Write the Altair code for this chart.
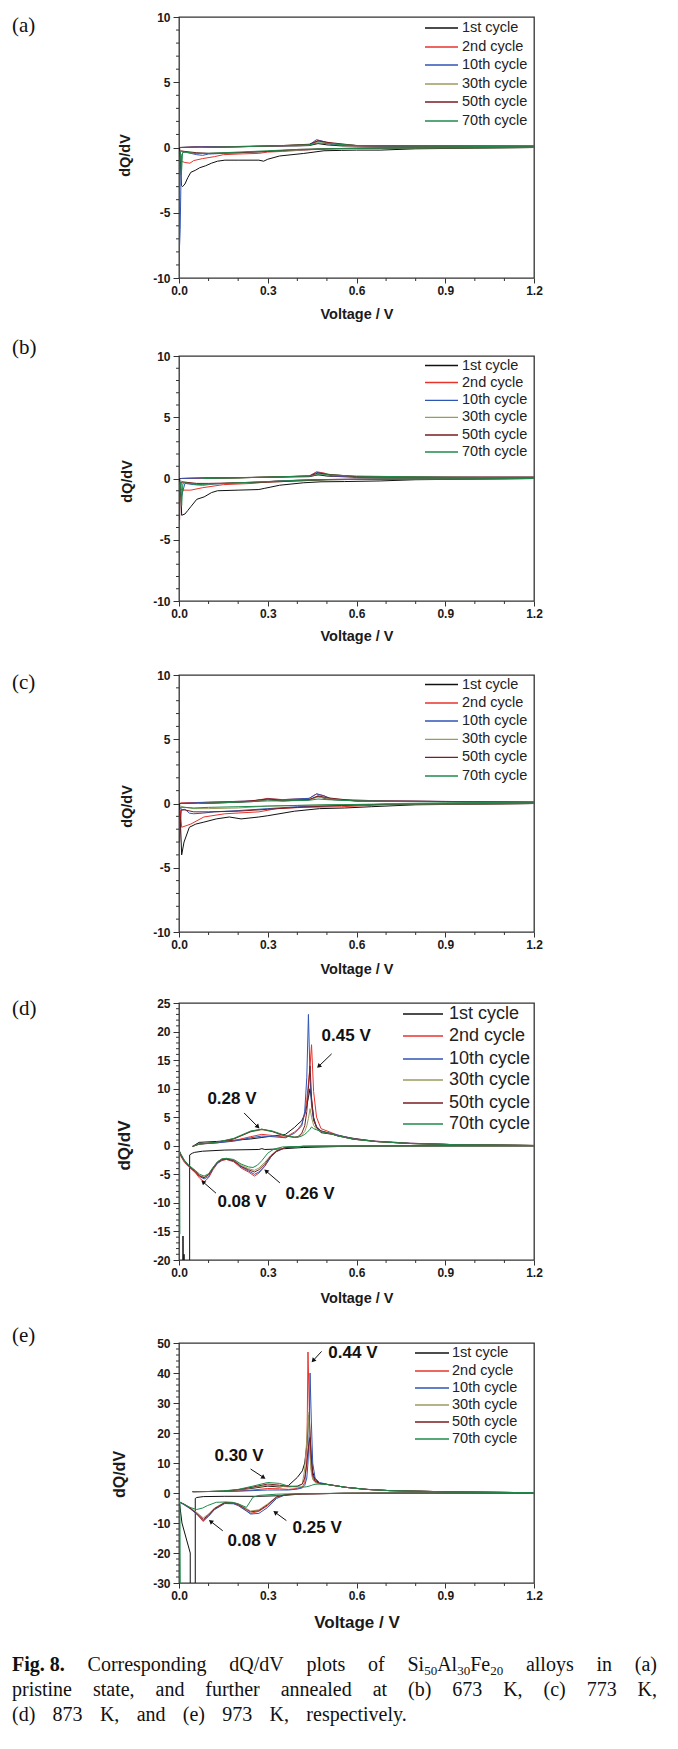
import math
import altair as alt
import pandas as pd

CYCLES = ["1st cycle", "2nd cycle", "10th cycle", "30th cycle", "50th cycle", "70th cycle"]
COLORS = ["#111111", "#e8332c", "#2f55b4", "#9b9b5e", "#7a1d22", "#1f8a4c"]
X_TICKS = [0.0, 0.3, 0.6, 0.9, 1.2]
X_MINOR = [0.1, 0.2, 0.4, 0.5, 0.7, 0.8, 1.0, 1.1]

# ---------------- panel (a) ----------------
A_1ST_V = [1.2, 1.0, 0.8, 0.68, 0.6, 0.55, 0.49, 0.42, 0.34, 0.3, 0.286, 0.27, 0.2, 0.155, 0.13, 0.11, 0.09, 0.07, 0.055, 0.04, 0.03, 0.02, 0.012, 0.008, 0.004, 0.002, None,
           0.002, 0.05, 0.1, 0.2, 0.3, 0.4, 0.44, 0.47, 0.5, 0.55, 0.7, 0.9, 1.2]
A_1ST_Y = [0.0, -0.05, -0.1, -0.2, -0.2, -0.22, -0.25, -0.46, -0.65, -0.9, -1.05, -0.97, -0.97, -0.97, -1.05, -1.2, -1.4, -1.55, -1.75, -1.9, -2.3, -2.8, -3.0, -2.9, -0.5, 0.0, None,
           0.0, 0.05, 0.05, 0.08, 0.1, 0.12, 0.15, 0.3, 0.2, 0.12, 0.1, 0.1, 0.1]
A_2ND_V = [1.2, 0.8, 0.6, 0.5, 0.42, 0.35, 0.3, 0.27, 0.2, 0.15, 0.12, 0.08, 0.05, 0.037, 0.02, 0.0075, 0.004, None,
           0.005, 0.1, 0.3, 0.44, 0.47, 0.5, 0.55, 0.7, 0.9, 1.2]
A_2ND_Y = [0.0, 0.0, -0.05, -0.1, -0.2, -0.3, -0.35, -0.45, -0.5, -0.55, -0.7, -0.85, -1.0, -1.2, -1.15, -1.05, -0.3, None,
           0.0, 0.05, 0.1, 0.2, 0.55, 0.4, 0.15, 0.1, 0.15, 0.1]
A_10TH_V = [1.2, 0.8, 0.6, 0.5, 0.4, 0.3, 0.2, 0.15, 0.1, 0.08, 0.06, 0.03, 0.015, 0.008, 0.004, 0.002, None,
            0.002, 0.1, 0.3, 0.44, 0.465, 0.49, 0.52, 0.7, 1.2]
A_10TH_Y = [0.0, 0.0, -0.05, -0.1, -0.2, -0.3, -0.4, -0.45, -0.5, -0.6, -0.55, -0.4, -0.35, -0.6, -6.3, -7.5, None,
            0.0, 0.05, 0.1, 0.2, 0.6, 0.45, 0.2, 0.1, 0.1]
A_30TH_V = [1.2, 0.7, 0.5, 0.4, 0.3, 0.2, 0.1, 0.06, 0.02, 0.005, None, 0.09, 0.2, 0.35, 0.44, 0.47, 0.5, 0.6, 0.9, 1.2]
A_30TH_Y = [0.0, -0.05, -0.1, -0.2, -0.3, -0.4, -0.45, -0.45, -0.35, -0.3, None, 0.0, 0.05, 0.15, 0.2, 0.45, 0.35, 0.15, 0.1, 0.1]
A_50TH_V = [1.2, 0.7, 0.5, 0.4, 0.3, 0.2, 0.1, 0.06, 0.02, 0.005, None, 0.09, 0.2, 0.35, 0.44, 0.47, 0.5, 0.6, 0.9, 1.2]
A_50TH_Y = [0.0, -0.05, -0.1, -0.15, -0.3, -0.4, -0.45, -0.4, -0.3, -0.25, None, 0.0, 0.05, 0.15, 0.25, 0.5, 0.4, 0.15, 0.1, 0.1]
A_70TH_V = [1.2, 0.7, 0.5, 0.4, 0.3, 0.2, 0.1, 0.05, 0.02, 0.012, 0.008, 0.005, None, 0.08, 0.2, 0.35, 0.44, 0.47, 0.5, 0.6, 0.9, 1.2]
A_70TH_Y = [0.0, -0.05, -0.1, -0.15, -0.25, -0.35, -0.45, -0.45, -0.35, -0.4, -2.1, -0.3, None, 0.0, 0.05, 0.15, 0.2, 0.35, 0.3, 0.15, 0.1, 0.05]

# ---------------- panel (b) ----------------
B_1ST_V = [1.2, 0.8, 0.68, 0.56, 0.48, 0.42, 0.34, 0.29, 0.27, 0.2, 0.13, 0.11, 0.085, 0.06, 0.04, 0.03, 0.02, 0.009, 0.005, 0.002, None,
           0.002, 0.1, 0.3, 0.44, 0.47, 0.5, 0.6, 0.9, 1.2]
B_1ST_Y = [0.0, -0.1, -0.2, -0.25, -0.27, -0.35, -0.55, -0.8, -0.9, -0.95, -1.0, -1.15, -1.5, -1.7, -2.3, -2.6, -2.9, -3.0, -0.5, 0.0, None,
           0.0, 0.05, 0.1, 0.15, 0.3, 0.2, 0.1, 0.1, 0.1]
B_2ND_V = [1.2, 0.6, 0.45, 0.33, 0.25, 0.15, 0.08, 0.04, 0.008, 0.004, None, 0.005, 0.1, 0.3, 0.44, 0.465, 0.49, 0.52, 0.7, 1.2]
B_2ND_Y = [0.0, -0.05, -0.1, -0.2, -0.4, -0.5, -0.75, -0.95, -0.95, -0.3, None, 0.0, 0.05, 0.1, 0.2, 0.55, 0.45, 0.2, 0.1, 0.1]
B_10TH_V = [1.2, 0.6, 0.45, 0.3, 0.2, 0.12, 0.08, 0.05, 0.02, 0.008, 0.004, None, 0.005, 0.1, 0.3, 0.44, 0.465, 0.49, 0.52, 0.7, 1.2]
B_10TH_Y = [0.0, -0.05, -0.1, -0.25, -0.35, -0.45, -0.55, -0.5, -0.4, -1.5, -0.3, None, 0.0, 0.05, 0.1, 0.2, 0.5, 0.4, 0.2, 0.1, 0.1]
B_30TH_V = [1.2, 0.7, 0.5, 0.4, 0.3, 0.2, 0.1, 0.06, 0.02, 0.005, None, 0.08, 0.2, 0.35, 0.44, 0.47, 0.5, 0.6, 0.9, 1.2]
B_30TH_Y = [0.0, -0.05, -0.1, -0.2, -0.3, -0.35, -0.45, -0.45, -0.3, -0.2, None, 0.0, 0.05, 0.15, 0.2, 0.4, 0.35, 0.15, 0.1, 0.1]
B_50TH_V = [1.2, 0.7, 0.5, 0.4, 0.3, 0.2, 0.1, 0.06, 0.02, 0.008, 0.004, 0.002, None, 0.08, 0.2, 0.35, 0.44, 0.47, 0.5, 0.6, 0.9, 1.2]
B_50TH_Y = [0.0, -0.05, -0.1, -0.2, -0.3, -0.35, -0.4, -0.4, -0.3, -0.3, -1.0, -3.4, None, 0.0, 0.05, 0.15, 0.2, 0.45, 0.35, 0.15, 0.1, 0.1]
B_70TH_V = [1.2, 0.7, 0.5, 0.4, 0.3, 0.2, 0.1, 0.06, 0.02, 0.013, 0.009, 0.005, None, 0.08, 0.2, 0.35, 0.44, 0.47, 0.5, 0.6, 0.9, 1.2]
B_70TH_Y = [0.0, -0.05, -0.1, -0.15, -0.25, -0.35, -0.45, -0.5, -0.35, -0.4, -2.2, -0.3, None, 0.0, 0.05, 0.15, 0.2, 0.3, 0.3, 0.2, 0.1, 0.05]

# ---------------- panel (c) ----------------
C_1ST_V = [1.2, 0.8, 0.65, 0.56, 0.475, 0.39, 0.3, 0.27, 0.21, 0.17, 0.126, 0.084, 0.057, 0.035, 0.017, 0.009, 0.004, 0.002, None,
           0.002, 0.1, 0.25, 0.3, 0.35, 0.44, 0.47, 0.5, 0.6, 0.9, 1.2]
C_1ST_Y = [0.0, -0.1, -0.25, -0.35, -0.4, -0.6, -0.95, -1.05, -1.2, -1.05, -1.2, -1.45, -1.6, -1.85, -3.0, -4.0, -1.0, 0.0, None,
           0.0, 0.05, 0.15, 0.3, 0.2, 0.3, 0.55, 0.35, 0.2, 0.15, 0.1]
C_2ND_V = [1.2, 0.7, 0.55, 0.42, 0.33, 0.27, 0.155, 0.084, 0.04, 0.009, 0.004, None,
           0.005, 0.1, 0.25, 0.3, 0.35, 0.44, 0.465, 0.49, 0.52, 0.7, 1.2]
C_2ND_Y = [0.0, -0.1, -0.25, -0.3, -0.4, -0.65, -0.8, -1.05, -1.6, -1.85, -0.5, None,
           0.05, 0.1, 0.2, 0.4, 0.3, 0.4, 0.75, 0.6, 0.3, 0.2, 0.1]
C_10TH_V = [1.2, 0.7, 0.55, 0.4, 0.3, 0.2, 0.12, 0.08, 0.05, 0.035, 0.02, 0.01, 0.004, None,
            0.005, 0.1, 0.25, 0.3, 0.35, 0.44, 0.465, 0.49, 0.52, 0.7, 1.2]
C_10TH_Y = [0.0, -0.05, -0.15, -0.25, -0.4, -0.55, -0.65, -0.75, -0.8, -0.75, -0.45, -0.5, -0.3, None,
            0.0, 0.1, 0.2, 0.35, 0.3, 0.4, 0.75, 0.6, 0.3, 0.2, 0.1]
C_30TH_V = [1.2, 0.7, 0.5, 0.4, 0.3, 0.2, 0.1, 0.05, 0.02, 0.005, None, 0.07, 0.2, 0.3, 0.35, 0.44, 0.47, 0.5, 0.6, 0.9, 1.2]
C_30TH_Y = [0.0, -0.05, -0.1, -0.15, -0.2, -0.35, -0.4, -0.4, -0.3, -0.2, None, 0.0, 0.1, 0.3, 0.25, 0.3, 0.5, 0.4, 0.2, 0.15, 0.1]
C_50TH_V = [1.2, 0.7, 0.55, 0.4, 0.3, 0.2, 0.1, 0.05, 0.02, 0.008, 0.004, 0.002, None, 0.07, 0.2, 0.3, 0.35, 0.44, 0.47, 0.5, 0.6, 0.9, 1.2]
C_50TH_Y = [0.0, -0.05, -0.15, -0.3, -0.45, -0.6, -0.65, -0.65, -0.5, -0.5, -1.5, -3.0, None, 0.0, 0.1, 0.35, 0.25, 0.3, 0.6, 0.45, 0.2, 0.15, 0.1]
C_70TH_V = [1.2, 0.7, 0.5, 0.4, 0.3, 0.2, 0.1, 0.05, 0.02, 0.005, None, 0.07, 0.2, 0.3, 0.35, 0.44, 0.47, 0.5, 0.6, 0.9, 1.2]
C_70TH_Y = [0.0, -0.05, -0.1, -0.15, -0.2, -0.25, -0.3, -0.35, -0.3, -0.3, None, 0.0, 0.1, 0.2, 0.2, 0.25, 0.35, 0.3, 0.2, 0.1, 0.05]

# ---------------- panel (d) ----------------
D_DIS_V = [1.2, 0.9, 0.6, 0.42, 0.36, 0.33, 0.31, 0.29, 0.27, 0.255, 0.235, 0.21, 0.185, 0.16, 0.145, 0.13, 0.115, 0.1, 0.085, 0.07, 0.055, 0.033, 0.018, 0.006, 0.002]
D_CHG_V = [0.046, 0.068, 0.126, 0.185, 0.243, 0.28, 0.315, 0.36, 0.39, 0.402, 0.415, 0.425, 0.432, 0.4375, 0.443, 0.448, 0.455, 0.465, 0.48, 0.52, 0.535, 0.59, 0.665, 0.78, 0.93, 1.2]
D_1ST_DIS_V = [1.2, 0.8, 0.56, 0.42, 0.344, 0.29, 0.28, 0.27, 0.155, 0.08, 0.053, 0.045, 0.036, 0.036, 0.018, 0.017, 0.016, 0.015, 0.0135, 0.013]
D_1ST_DIS_Y = [0.0, 0.0, -0.1, -0.3, -0.55, -0.65, -0.5, -0.65, -0.75, -0.95, -1.15, -1.3, -1.6, -30, -30, -19, -30, -30, -15.8, -30]
D_1ST_CHG_Y = [-0.1, 0.6, 0.75, 0.95, 1.2, 1.45, 1.7, 2.0, 3.2, 3.8, 4.4, 5.5, 7.0, 8.5, 10.0, 8.0, 5.0, 3.2, 2.3, 2.0, 1.8, 1.3, 0.75, 0.4, 0.2, 0.05]
D_2ND_DIS_Y = [0.0, 0.0, -0.05, -0.1, -0.3, -1.0, -2.0, -3.6, -4.8, -5.3, -4.6, -3.9, -2.8, -2.4, -2.6, -3.1, -4.2, -5.6, -6.3, -5.7, -4.7, -3.7, -2.9, -1.8, -1.0]
D_2ND_CHG_Y = [-0.1, 0.3, 0.5, 0.9, 1.6, 2.0, 1.8, 1.5, 2.4, 2.9, 3.8, 5.5, 8.0, 11.0, 14.0, 17.7, 9.5, 5.0, 3.0, 2.2, 1.9, 1.2, 0.8, 0.45, 0.2, 0.05]
D_10TH_DIS_Y = [0.0, 0.0, -0.05, -0.1, -0.3, -1.0, -2.0, -3.5, -4.6, -5.0, -4.4, -3.7, -2.7, -2.3, -2.5, -3.0, -4.0, -5.4, -5.8, -5.4, -4.6, -3.6, -2.7, -1.6, -1.0]
D_10TH_CHG_Y = [-0.1, 0.3, 0.5, 0.8, 1.4, 1.7, 1.6, 1.4, 2.2, 2.8, 3.5, 6.0, 12.0, 23.0, 12.0, 7.0, 4.5, 3.4, 2.6, 2.1, 1.9, 1.2, 0.8, 0.45, 0.2, 0.05]
D_30TH_DIS_Y = [0.0, 0.0, -0.05, -0.1, -0.3, -0.8, -1.7, -2.9, -3.9, -4.3, -4.0, -3.4, -2.5, -2.2, -2.3, -2.8, -3.8, -5.0, -5.5, -5.2, -4.4, -3.5, -2.6, -1.5, -1.0]
D_30TH_CHG_Y = [-0.1, 0.3, 0.6, 1.2, 2.45, 2.8, 2.5, 1.7, 1.5, 1.5, 1.9, 2.5, 3.5, 4.8, 6.5, 5.0, 3.6, 2.9, 2.5, 2.0, 1.75, 1.15, 0.75, 0.4, 0.2, 0.05]
D_50TH_DIS_Y = [0.0, 0.0, -0.05, -0.1, -0.3, -0.9, -1.8, -3.2, -4.2, -4.6, -4.2, -3.6, -2.6, -2.3, -2.4, -2.9, -3.9, -5.1, -5.6, -5.3, -4.5, -3.5, -2.6, -1.6, -1.0]
D_50TH_CHG_Y = [-0.1, 0.3, 0.6, 1.2, 2.5, 2.9, 2.5, 1.7, 1.5, 1.6, 2.2, 3.5, 6.0, 10.0, 14.0, 8.5, 4.5, 3.2, 2.6, 2.0, 1.75, 1.15, 0.75, 0.4, 0.2, 0.05]
D_70TH_DIS_V = [1.2, 0.6, 0.42, 0.35, 0.32, 0.3, 0.28, 0.265, 0.25, 0.235, 0.21, 0.185, 0.16, 0.145, 0.13, 0.115, 0.1, 0.085, 0.07, 0.055, 0.033, 0.018, 0.004, 0.002, 0.003]
D_70TH_DIS_Y = [0.0, -0.05, -0.1, -0.2, -0.6, -1.3, -2.6, -3.4, -3.8, -3.7, -3.2, -2.4, -2.2, -2.3, -2.8, -3.8, -4.9, -5.3, -5.0, -4.3, -3.4, -2.5, -1.2, -1.0, -15.5]
D_70TH_CHG_Y = [-0.1, 0.3, 0.6, 1.3, 2.6, 2.9, 2.6, 1.8, 1.5, 1.5, 1.7, 2.0, 2.3, 2.6, 2.9, 3.3, 3.0, 2.8, 2.5, 2.0, 1.75, 1.15, 0.75, 0.4, 0.2, 0.05]

# ---------------- panel (e) ----------------
E_DIS_V = [1.2, 0.8, 0.56, 0.417, 0.36, 0.33, 0.3, 0.27, 0.242, 0.228, 0.2, 0.184, 0.155, 0.12, 0.1, 0.082, 0.06, 0.037, 0.0165, 0.002]
E_CHG_V = [0.046, 0.1, 0.15, 0.2, 0.25, 0.3, 0.34, 0.37, 0.4, 0.417, 0.425, 0.432, 0.436, 0.44, 0.443, 0.447, 0.452, 0.46, 0.475, 0.505, 0.563, 0.635, 0.71, 0.93, 1.2]
E_1ST_DIS_V = [1.2, 0.8, 0.56, 0.417, 0.344, 0.27, 0.155, 0.082, 0.06, 0.055, 0.055, None, 0.002, 0.01, 0.038, 0.038]
E_1ST_DIS_Y = [0.0, 0.0, -0.1, -0.3, -0.9, -1.1, -1.1, -1.2, -1.5, -1.8, -35, None, -3.5, -10.0, -20.0, -35]
E_1ST_CHG_Y = [0.45, 0.5, 0.6, 1.0, 1.6, 2.3, 2.0, 2.5, 5.2, 7.4, 10.0, 16.0, 22.0, 26.0, 20.0, 12.0, 7.0, 4.5, 3.2, 2.8, 1.9, 1.2, 0.8, 0.35, 0.1]
E_2ND_DIS_Y = [0.0, -0.05, -0.1, -0.3, -0.55, -1.4, -4.2, -6.1, -6.8, -5.9, -4.0, -3.4, -3.3, -5.5, -7.5, -9.5, -7.0, -5.0, -3.7, -3.1]
E_2ND_CHG_Y = [0.45, 0.5, 0.5, 0.7, 1.0, 1.5, 1.4, 1.2, 1.5, 2.0, 3.5, 10.0, 47.0, 30.0, 14.0, 8.0, 5.0, 3.8, 3.2, 2.8, 1.9, 1.2, 0.8, 0.35, 0.1]
E_10TH_DIS_Y = [0.0, -0.05, -0.1, -0.3, -0.6, -1.8, -4.8, -6.8, -7.0, -6.0, -4.2, -3.6, -3.5, -5.5, -7.8, -9.2, -7.0, -5.2, -3.9, -3.0]
E_10TH_CHG_Y = [0.45, 0.5, 0.5, 0.6, 0.8, 1.0, 1.0, 1.0, 1.3, 1.7, 2.5, 5.0, 10.0, 20.0, 40.0, 25.0, 10.0, 5.0, 3.5, 2.8, 1.9, 1.2, 0.8, 0.35, 0.1]
E_30TH_DIS_Y = [0.0, -0.05, -0.1, -0.3, -0.5, -1.2, -3.6, -5.6, -6.0, -5.2, -3.6, -3.2, -3.1, -5.0, -7.0, -8.3, -6.5, -4.8, -3.6, -3.0]
E_30TH_CHG_Y = [0.45, 0.5, 0.6, 1.0, 1.8, 2.6, 2.3, 2.0, 2.2, 3.0, 8.0, 18.0, 27.0, 20.0, 12.0, 7.0, 4.5, 3.5, 3.0, 2.8, 1.9, 1.2, 0.8, 0.35, 0.1]
E_50TH_DIS_Y = [0.0, -0.05, -0.1, -0.3, -0.55, -1.3, -3.9, -5.9, -6.3, -5.5, -3.8, -3.3, -3.2, -5.2, -7.3, -8.8, -6.8, -5.0, -3.7, -3.1]
E_50TH_CHG_Y = [0.45, 0.5, 0.6, 1.1, 2.0, 3.0, 2.6, 2.2, 2.3, 3.0, 5.0, 10.0, 14.0, 17.0, 18.5, 12.0, 6.0, 4.0, 3.2, 2.8, 1.9, 1.2, 0.8, 0.35, 0.1]
E_70TH_DIS_V = [1.2, 0.8, 0.56, 0.417, 0.33, 0.27, 0.25, 0.228, 0.2, 0.18, 0.155, 0.126, 0.096, 0.08, 0.06, 0.037, 0.0165, 0.003, 0.0045]
E_70TH_DIS_Y = [0.0, -0.05, -0.1, -0.2, -0.4, -0.8, -1.4, -4.8, -3.6, -3.1, -3.0, -3.1, -4.2, -5.0, -5.5, -4.8, -3.8, -3.0, -35]
E_70TH_CHG_Y = [0.45, 0.5, 0.7, 1.2, 2.3, 3.5, 3.2, 2.3, 2.0, 2.0, 2.0, 2.1, 2.2, 2.3, 2.4, 2.5, 2.7, 2.9, 3.0, 2.8, 1.9, 1.2, 0.8, 0.35, 0.1]

# ---------------- annotations ----------------
D_NOTE_TEXT = ["0.45 V", "0.28 V", "0.08 V", "0.26 V"]
D_NOTE_V = [0.565, 0.179, 0.213, 0.443]
D_NOTE_Y = [19.2, 8.2, -9.9, -8.4]
D_ARROW_V = [0.516, 0.220, 0.125, 0.341]
D_ARROW_Y = [16.1, 5.75, -8.3, -6.5]
D_ARROW_V2 = [0.474, 0.265, 0.083, 0.296]
D_ARROW_Y2 = [14.0, 3.4, -6.4, -4.5]

E_NOTE_TEXT = ["0.44 V", "0.30 V", "0.08 V", "0.25 V"]
E_NOTE_V = [0.588, 0.203, 0.247, 0.467]
E_NOTE_Y = [46.7, 12.3, -16.0, -11.7]
E_ARROW_V = [0.482, 0.242, 0.148, 0.363]
E_ARROW_Y = [47.2, 8.0, -12.6, -9.2]
E_ARROW_V2 = [0.455, 0.284, 0.109, 0.327]
E_ARROW_Y2 = [44.3, 5.3, -9.6, -6.6]

# ---------------- caption ----------------
CAPTION_LINE_1 = [[("Fig. 8.", "b")], [("Corresponding", "r")], [("dQ/dV", "r")], [("plots", "r")], [("of", "r")],
                  [("Si", "r"), ("50", "s"), ("Al", "r"), ("30", "s"), ("Fe", "r"), ("20", "s")],
                  [("alloys", "r")], [("in", "r")], [("(a)", "r")]]
CAPTION_LINE_2 = [[(w, "r")] for w in "pristine state, and further annealed at (b) 673 K, (c) 773 K,".split()]
CAPTION_LINE_3 = [[(w, "r")] for w in "(d) 873 K, and (e) 973 K, respectively.".split()]

# ================= layout / style constants =================
PLOT_W = 355
BOTTOM_PAD = 52
LEFT_EDGE = -170
AXIS_COLOR = "#333333"
TEXT_COLOR = "#1a1a1a"


def series_df(pairs):
    rows = []
    for cyc, (vs, ys) in zip(CYCLES, pairs):
        seg, i = 0, 0
        for v, y in zip(vs, ys):
            if v is None or y is None:
                seg += 1
                continue
            rows.append({"cycle": cyc, "seg": f"{cyc}|{seg}", "i": i, "V": v, "Y": y})
            i += 1
    return pd.DataFrame(rows)


def one():
    return pd.DataFrame({"k": [0]})


PANEL_A = series_df([(A_1ST_V, A_1ST_Y), (A_2ND_V, A_2ND_Y), (A_10TH_V, A_10TH_Y),
                     (A_30TH_V, A_30TH_Y), (A_50TH_V, A_50TH_Y), (A_70TH_V, A_70TH_Y)])
PANEL_B = series_df([(B_1ST_V, B_1ST_Y), (B_2ND_V, B_2ND_Y), (B_10TH_V, B_10TH_Y),
                     (B_30TH_V, B_30TH_Y), (B_50TH_V, B_50TH_Y), (B_70TH_V, B_70TH_Y)])
PANEL_C = series_df([(C_1ST_V, C_1ST_Y), (C_2ND_V, C_2ND_Y), (C_10TH_V, C_10TH_Y),
                     (C_30TH_V, C_30TH_Y), (C_50TH_V, C_50TH_Y), (C_70TH_V, C_70TH_Y)])
PANEL_D = series_df([
    (D_1ST_DIS_V + [None] + D_CHG_V, D_1ST_DIS_Y + [None] + D_1ST_CHG_Y),
    (D_DIS_V + [None] + D_CHG_V, D_2ND_DIS_Y + [None] + D_2ND_CHG_Y),
    (D_DIS_V + [None] + D_CHG_V, D_10TH_DIS_Y + [None] + D_10TH_CHG_Y),
    (D_DIS_V + [None] + D_CHG_V, D_30TH_DIS_Y + [None] + D_30TH_CHG_Y),
    (D_DIS_V + [None] + D_CHG_V, D_50TH_DIS_Y + [None] + D_50TH_CHG_Y),
    (D_70TH_DIS_V + [None] + D_CHG_V, D_70TH_DIS_Y + [None] + D_70TH_CHG_Y),
])
PANEL_E = series_df([
    (E_1ST_DIS_V + [None] + E_CHG_V, E_1ST_DIS_Y + [None] + E_1ST_CHG_Y),
    (E_DIS_V + [None] + E_CHG_V, E_2ND_DIS_Y + [None] + E_2ND_CHG_Y),
    (E_DIS_V + [None] + E_CHG_V, E_10TH_DIS_Y + [None] + E_10TH_CHG_Y),
    (E_DIS_V + [None] + E_CHG_V, E_30TH_DIS_Y + [None] + E_30TH_CHG_Y),
    (E_DIS_V + [None] + E_CHG_V, E_50TH_DIS_Y + [None] + E_50TH_CHG_Y),
    (E_70TH_DIS_V + [None] + E_CHG_V, E_70TH_DIS_Y + [None] + E_70TH_CHG_Y),
])


def minor_y(lo, hi, step, major):
    out = []
    v = lo
    while v <= hi + 1e-9:
        if all(abs(v - m) > 1e-9 for m in major):
            out.append(round(v, 6))
        v += step
    return out


Y10 = [-10, -5, 0, 5, 10]
YD = [-20, -15, -10, -5, 0, 5, 10, 15, 20, 25]
YE = [-30, -20, -10, 0, 10, 20, 30, 40, 50]

PANELS = [
    dict(df=PANEL_A, label="(a)", h=261, ydom=[-10, 10], yt=Y10, ym=minor_y(-10, 10, 1, Y10), T=8, laby=9,
         leg_rows=[11, 30, 48, 67, 85, 104], leg_x=[246, 279], leg_tx=283, leg_fs=14.5,
         ytfs=14.5, ytx=-54, yty=138, xtfs=14.5, xty=36),
    dict(df=PANEL_B, label="(b)", h=245, ydom=[-10, 10], yt=Y10, ym=minor_y(-10, 10, 1, Y10), T=24, laby=-8,
         leg_rows=[9.5, 26.5, 44.3, 61.3, 79, 96], leg_x=[246, 279], leg_tx=283, leg_fs=14.5,
         ytfs=14.5, ytx=-52, yty=125, xtfs=14.5, xty=35),
    dict(df=PANEL_C, label="(c)", h=257, ydom=[-10, 10], yt=Y10, ym=minor_y(-10, 10, 1, Y10), T=20, laby=8,
         leg_rows=[9.5, 28, 46, 64.3, 82.3, 101], leg_x=[246, 279], leg_tx=283, leg_fs=14.5,
         ytfs=14.5, ytx=-52, yty=131, xtfs=14.5, xty=37),
    dict(df=PANEL_D, label="(d)", h=257, ydom=[-20, 25], yt=YD, ym=minor_y(-20, 25, 1, YD), T=17, laby=6,
         leg_rows=[11, 33, 56, 77, 100, 121], leg_x=[224, 264], leg_tx=270, leg_fs=18,
         ytfs=17, ytx=-55, yty=142, xtfs=14.5, xty=38,
         notes=(D_NOTE_TEXT, D_NOTE_V, D_NOTE_Y), arrows=(D_ARROW_V, D_ARROW_Y, D_ARROW_V2, D_ARROW_Y2)),
    dict(df=PANEL_E, label="(e)", h=240, ydom=[-30, 50], yt=YE, ym=minor_y(-30, 50, 2, YE), T=29, laby=-7,
         leg_rows=[10, 28, 45, 62, 79, 96], leg_x=[236, 270], leg_tx=273, leg_fs=14.5,
         ytfs=16, ytx=-60, yty=131, xtfs=17, xty=39,
         notes=(E_NOTE_TEXT, E_NOTE_V, E_NOTE_Y), arrows=(E_ARROW_V, E_ARROW_Y, E_ARROW_V2, E_ARROW_Y2)),
]

Y_LABEL_EXPR = "datum.value < 0 ? '-' + format(-datum.value, 'd') : format(datum.value, 'd')"


def make_panel(p):
    h = p["h"]
    ymin, ymax = p["ydom"]
    sx = PLOT_W / 1.2
    sy = h / (ymax - ymin)
    xs = alt.Scale(domain=[0, 1.2], nice=False, zero=False)
    ys = alt.Scale(domain=[ymin, ymax], nice=False, zero=False)
    xaxis = alt.Axis(values=X_TICKS, format=".1f", title="Voltage / V", titleFontSize=p["xtfs"],
                     titleX=PLOT_W / 2, titleY=p["xty"], titleBaseline="middle", titleAlign="center",
                     labelFontSize=12, tickSize=5, labelPadding=2, labelFlush=False, labelOverlap=False)
    yaxis = alt.Axis(values=p["yt"], labelExpr=Y_LABEL_EXPR, title="dQ/dV", titleFontSize=p["ytfs"],
                     titleX=p["ytx"], titleY=p["yty"], titleAngle=270, titleBaseline="middle",
                     titleAlign="center", labelFontSize=12, tickSize=6, labelPadding=3, labelOverlap=False)
    color = alt.Color("cycle:N", scale=alt.Scale(domain=CYCLES, range=COLORS), legend=None)

    def X(field):
        return alt.X(field, scale=xs, axis=xaxis)

    def Y(field):
        return alt.Y(field, scale=ys, axis=yaxis)

    lines = alt.Chart(p["df"]).mark_line(strokeWidth=1.0, clip=True).encode(
        x=X("V:Q"), y=Y("Y:Q"), color=color, detail="seg:N", order=alt.Order("i:Q"))
    layers = [lines]

    # minor ticks
    layers.append(alt.Chart(pd.DataFrame({"V": X_MINOR})).mark_rule(color=AXIS_COLOR, strokeWidth=1).encode(
        x=X("V:Q"), y=alt.value(h), y2=alt.value(h + 3)))
    layers.append(alt.Chart(pd.DataFrame({"Y": p["ym"]})).mark_rule(color=AXIS_COLOR, strokeWidth=1).encode(
        y=Y("Y:Q"), x=alt.value(0), x2=alt.value(-3)))

    # legend (placed in data units of the panel)
    leg = pd.DataFrame({
        "cycle": CYCLES,
        "V": [p["leg_x"][0] / sx] * 6,
        "V2": [p["leg_x"][1] / sx] * 6,
        "VT": [p["leg_tx"] / sx] * 6,
        "Y": [ymax - r / sy for r in p["leg_rows"]],
    })
    layers.append(alt.Chart(leg).mark_rule(strokeWidth=1.3).encode(
        x=X("V:Q"), x2="V2:Q", y=Y("Y:Q"), color=color))
    layers.append(alt.Chart(leg).mark_text(align="left", baseline="middle", font="Liberation Sans",
                                           fontSize=p["leg_fs"], color="#222222").encode(
        x=X("VT:Q"), y=Y("Y:Q"), text="cycle:N"))

    # annotations
    if "notes" in p:
        t, v, y = p["notes"]
        layers.append(alt.Chart(pd.DataFrame({"t": t, "V": v, "Y": y})).mark_text(
            align="center", baseline="middle", font="Liberation Sans", fontWeight="bold",
            fontSize=17, color="#111111").encode(x=X("V:Q"), y=Y("Y:Q"), text="t:N"))
        v1, y1, v2, y2 = p["arrows"]
        ang = []
        for a, b, c, d in zip(v1, y1, v2, y2):
            dx = (c - a) * sx
            dy = -(d - b) * sy
            ang.append((math.degrees(math.atan2(dx, -dy)) + 360.0) % 360.0)
        adf = pd.DataFrame({"V": v1, "Y": y1, "V2": v2, "Y2": y2, "ang": ang})
        layers.append(alt.Chart(adf).mark_rule(color="#111111", strokeWidth=1).encode(
            x=X("V:Q"), x2="V2:Q", y=Y("Y:Q"), y2="Y2:Q"))
        layers.append(alt.Chart(adf).mark_point(shape="triangle", filled=True, size=26, color="#111111",
                                                opacity=1).encode(
            x=X("V2:Q"), y=Y("Y2:Q"), angle=alt.Angle("ang:Q", scale=None)))

    # panel label
    layers.append(alt.Chart(one()).mark_text(text=p["label"], align="left", baseline="middle",
                                             font="Liberation Serif", fontSize=21, color="#111111").encode(
        x=alt.value(-167), y=alt.value(p["laby"])))

    # invisible bounds markers (layout spacing)
    layers.append(alt.Chart(one()).mark_rule(color="white", strokeWidth=0.5).encode(
        x=alt.value(LEFT_EDGE), x2=alt.value(LEFT_EDGE + 1), y=alt.value(-p["T"]), y2=alt.value(-p["T"])))
    layers.append(alt.Chart(one()).mark_rule(color="white", strokeWidth=0.5).encode(
        x=alt.value(0), x2=alt.value(1), y=alt.value(h + BOTTOM_PAD), y2=alt.value(h + BOTTOM_PAD)))

    return alt.layer(*layers).properties(width=PLOT_W, height=h)


# ---------------- caption layout ----------------
TIMES_R = {' ': 250, '(': 333, ')': 333, ',': 250, '.': 250, '/': 278, 'A': 722, 'C': 667, 'F': 556,
           'K': 722, 'Q': 722, 'S': 556, 'V': 722, 'a': 444, 'b': 500, 'c': 444, 'd': 500, 'e': 444,
           'f': 333, 'g': 500, 'h': 500, 'i': 278, 'l': 278, 'n': 500, 'o': 500, 'p': 500, 'r': 333,
           's': 389, 't': 278, 'u': 500, 'v': 500, 'y': 500}
TIMES_B = {' ': 250, 'F': 611, 'i': 278, 'g': 500, '.': 250}
CAP_FS = 20
SUB_FS = 13


def piece_w(text, style):
    if style == "b":
        return sum(TIMES_B.get(c, 500) for c in text) * CAP_FS / 1000
    if style == "s":
        return sum(TIMES_R.get(c, 500) for c in text) * SUB_FS / 1000
    return sum(TIMES_R.get(c, 500) for c in text) * CAP_FS / 1000


CAP_X0 = -167
CAP_RIGHT = [478, 478, 229]
CAP_BASE = [33.5, 58.5, 83.5]

cap_rows = []
for line, right, base in zip([CAPTION_LINE_1, CAPTION_LINE_2, CAPTION_LINE_3], CAP_RIGHT, CAP_BASE):
    widths = [sum(piece_w(t, s) for t, s in word) for word in line]
    gap = (right - CAP_X0 - sum(widths)) / (len(line) - 1)
    x = CAP_X0
    for word, w in zip(line, widths):
        px = x
        for t, s in word:
            cap_rows.append({"x": px, "y": base + (4.5 if s == "s" else 0), "text": t, "style": s})
            px += piece_w(t, s)
        x += w + gap
CAP_DF = pd.DataFrame(cap_rows)

cap_layers = []
for style, fs, fw in [("r", CAP_FS, "normal"), ("b", CAP_FS, "bold"), ("s", SUB_FS, "normal")]:
    cap_layers.append(alt.Chart(CAP_DF[CAP_DF["style"] == style]).mark_text(
        align="left", baseline="alphabetic", font="Liberation Serif", fontSize=fs, fontWeight=fw,
        color="#111111").encode(
        x=alt.X("x:Q", scale=None, axis=None),
        y=alt.Y("y:Q", scale=None, axis=None),
        text="text:N"))
caption = alt.layer(*cap_layers).properties(width=PLOT_W, height=95,
                                             view=alt.ViewBackground(stroke="transparent"))

chart = alt.vconcat(*[make_panel(p) for p in PANELS], caption, spacing=0).resolve_scale(
    x="independent", y="independent"
).properties(padding=0, background="white").configure_view(
    stroke=AXIS_COLOR, strokeWidth=1.3
).configure_axis(
    grid=False, domain=False, tickColor=AXIS_COLOR, tickWidth=1, labelOverlap=False,
    labelFont="Liberation Sans", labelFontWeight="bold", labelColor=TEXT_COLOR,
    titleFont="Liberation Sans", titleFontWeight="bold", titleColor=TEXT_COLOR,
)

chart.save("out.html", embed_options={"renderer": "svg", "actions": False})
